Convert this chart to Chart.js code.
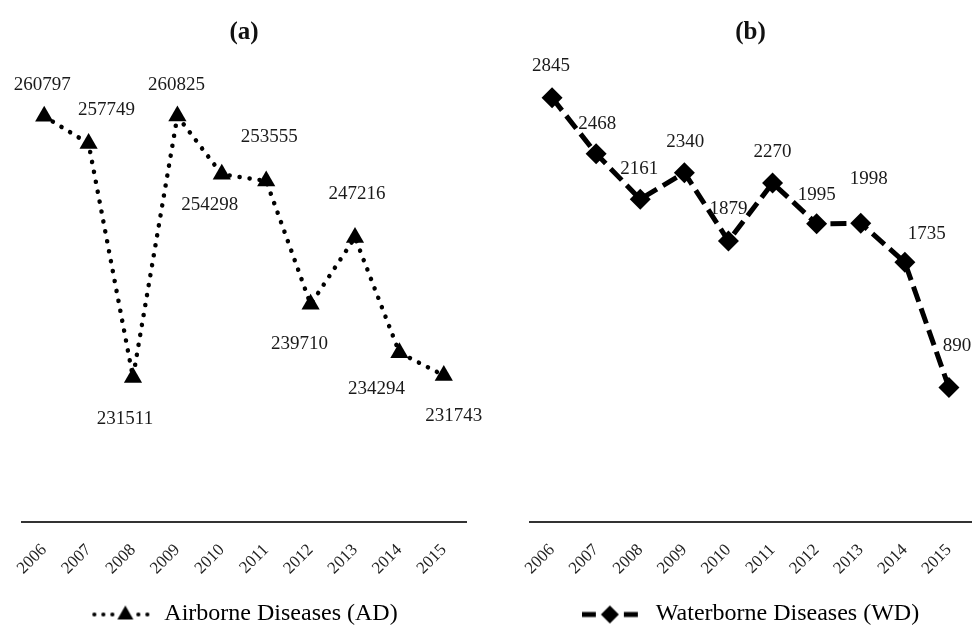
<!DOCTYPE html>
<html>
<head>
<meta charset="utf-8">
<script src="https://cdn.jsdelivr.net/npm/chart.js@4/dist/chart.umd.min.js"></script>
<style>
  html, body { margin: 0; padding: 0; background: #fff; }
  #wrap { width: 974px; height: 626px; display: flex; }
  .panel { width: 487px; height: 626px; position: relative; }
</style>
</head>
<body>
<div id="wrap">
  <div class="panel"><canvas id="chartA"></canvas></div>
  <div class="panel"><canvas id="chartB"></canvas></div>
</div>
<script>
// ---- data ----
const years = ['2006','2007','2008','2009','2010','2011','2012','2013','2014','2015'];
const airborne = [260797, 257749, 231511, 260825, 254298, 253555, 239710, 247216, 234294, 231743];
const waterborne = [2845, 2468, 2161, 2340, 1879, 2270, 1995, 1998, 1735, 890];
const titleA = '(a)';
const titleB = '(b)';
const legendA = 'Airborne Diseases (AD)';
const legendB = 'Waterborne Diseases (WD)';

// ---- value-label placement (pixel offsets of each label from its point) ----
const offsetsA = [[-2,-31],[18,-34],[-8,42],[-1,-31],[-12,31],[3,-44],[-11,40],[2,-43],[-23,36],[10,41]];
const offsetsB = [[-1,-32],[1,-30],[-1,-30],[1,-31],[0,-32],[0,-31],[0,-29],[8,-44],[22,-28],[8,-42]];

const FONT = "'Liberation Serif', 'Times New Roman', serif";

function legendIcon(kind) {
  const c = document.createElement('canvas');
  c.width = 62; c.height = 24;
  const ctx = c.getContext('2d');
  ctx.strokeStyle = '#000'; ctx.fillStyle = '#000';
  const y = 13;
  if (kind === 'dot') {
    [4, 13, 22, 48, 57].forEach(x => { ctx.beginPath(); ctx.arc(x, y, 2.1, 0, Math.PI * 2); ctx.fill(); });
    ctx.beginPath(); ctx.moveTo(35, y - 9); ctx.lineTo(43, y + 5); ctx.lineTo(27, y + 5); ctx.closePath(); ctx.fill();
  } else {
    ctx.lineWidth = 5; ctx.lineCap = 'butt';
    ctx.beginPath(); ctx.moveTo(0, y); ctx.lineTo(14, y); ctx.moveTo(42, y); ctx.lineTo(56, y); ctx.stroke();
    ctx.beginPath(); ctx.moveTo(28, y - 9); ctx.lineTo(37, y); ctx.lineTo(28, y + 9); ctx.lineTo(19, y); ctx.closePath(); ctx.fill();
  }
  return c;
}

const valueLabels = {
  id: 'valueLabels',
  afterDatasetsDraw(chart, args, opts) {
    const ctx = chart.ctx;
    const meta = chart.getDatasetMeta(0);
    const vals = chart.data.datasets[0].data;
    ctx.save();
    ctx.font = '19px ' + FONT;
    ctx.fillStyle = '#1a1a1a';
    ctx.textAlign = 'center';
    ctx.textBaseline = 'middle';
    meta.data.forEach((pt, i) => {
      const o = opts.offsets[i];
      ctx.fillText(String(vals[i]), pt.x + o[0], pt.y + o[1]);
    });
    ctx.restore();
  }
};

function makeChart(id, values, title, legendText, yMin, yMax, pad, style) {
  const isDot = style === 'dot';
  return new Chart(document.getElementById(id), {
    type: 'line',
    data: {
      labels: years,
      datasets: [{
        label: legendText,
        data: values,
        borderColor: '#000',
        backgroundColor: '#000',
        borderWidth: isDot ? 4.5 : 5,
        borderDash: isDot ? [0.1, 10] : [16, 7],
        borderCapStyle: isDot ? 'round' : 'butt',
        tension: 0,
        pointStyle: isDot ? 'triangle' : 'rectRot',
        pointRadius: 10.5,
        pointBorderWidth: 0,
        pointBackgroundColor: '#000',
        fill: false
      }]
    },
    options: {
      responsive: false,
      animation: false,
      devicePixelRatio: 1,
      layout: { padding: pad, autoPadding: false },
      plugins: {
        title: {
          display: true, text: title, color: '#111',
          font: { family: FONT, size: 25, weight: 'bold', lineHeight: 1.2 },
          padding: { top: 17.5, bottom: 10 }
        },
        legend: {
          display: true, position: 'bottom',
          labels: {
            color: '#111',
            font: { family: FONT, size: 24 },
            usePointStyle: true,
            pointStyleWidth: 62,
            padding: 0,
            generateLabels() {
              return [{ text: legendText, pointStyle: legendIcon(style), fillStyle: '#000', strokeStyle: '#000', lineWidth: 0, datasetIndex: 0 }];
            }
          }
        },
        tooltip: { enabled: false },
        valueLabels: { offsets: isDot ? offsetsA : offsetsB }
      },
      scales: {
        x: {
          offset: true,
          grid: { display: false, drawTicks: false },
          border: { display: true, color: '#333', width: 2 },
          ticks: {
            color: '#222', font: { family: FONT, size: 17 },
            minRotation: 45, maxRotation: 45, padding: 18
          },
          afterFit(scale) { scale.height = 79.5; scale.paddingLeft = 0; scale.paddingRight = 0; }
        },
        y: { display: false, min: yMin, max: yMax }
      }
    },
    plugins: [valueLabels]
  });
}

const cA = document.getElementById('chartA'); cA.width = 487; cA.height = 626;
const cB = document.getElementById('chartB'); cB.width = 487; cB.height = 626;
makeChart('chartA', airborne, titleA, legendA, 215300, 267400, { left: 22, right: 21, top: 0, bottom: -9.5 }, 'dot');
makeChart('chartB', waterborne, titleB, legendB, -17, 3117, { left: 43, right: 3, top: 0, bottom: -9.5 }, 'dash');
</script>
</body>
</html>
